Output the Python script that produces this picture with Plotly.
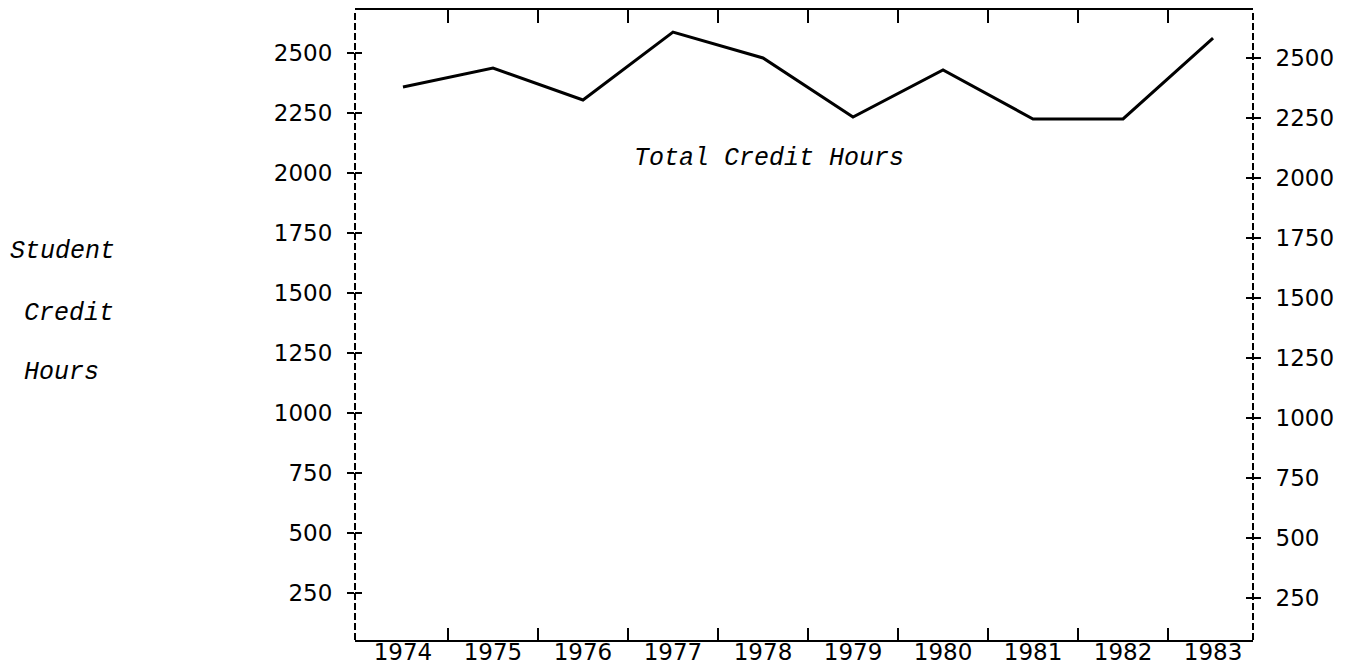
import plotly.graph_objects as go

years = [1974, 1975, 1976, 1977, 1978, 1979, 1980, 1981, 1982, 1983]
credit_hours = [2358, 2437, 2304, 2587, 2479, 2233, 2429, 2225, 2225, 2562]
y_ticks = [250, 500, 750, 1000, 1250, 1500, 1750, 2000, 2250, 2500]
year_labels = [str(y) for y in years]
boundaries = [y + 0.5 for y in years[:-1]]

TICK_FONT = dict(family="DejaVu Sans, Verdana, sans-serif", size=23, color="black")
TYPE_FONT = dict(family="Courier New, Liberation Mono, monospace", size=25,
                 color="black", style="italic")

XR = [1973.467, 1983.444]
YR = [54, 2679]
YR2 = [75, 2700]

L, T, PW, PH = 355, 10, 898, 630
FW, FH = 1355, 670

fig = go.Figure()

fig.add_trace(go.Scatter(x=years, y=credit_hours, mode="lines",
                         line=dict(color="black", width=3),
                         xaxis="x", yaxis="y", hoverinfo="skip", showlegend=False))
for xa, ya in [("x2", "y"), ("x4", "y"), ("x", "y2"), ("x", "y3"), ("x", "y4")]:
    fig.add_trace(go.Scatter(x=years, y=credit_hours, mode="lines",
                             line=dict(width=0, color="rgba(0,0,0,0)"),
                             xaxis=xa, yaxis=ya, hoverinfo="skip", showlegend=False))

common = dict(showgrid=False, zeroline=False, automargin=False)

fig.update_layout(
    width=FW, height=FH,
    margin=dict(l=L, r=FW - L - PW, t=T, b=FH - T - PH, autoexpand=False),
    paper_bgcolor="white", plot_bgcolor="white",
    showlegend=False,
    # bottom frame line with ticks at the year boundaries
    xaxis=dict(range=XR, tickvals=boundaries, ticks="inside", ticklen=12, tickwidth=2,
               tickcolor="black", showticklabels=False,
               showline=True, linecolor="black", linewidth=2, anchor="y", **common),
    # top frame line with ticks at the year boundaries
    xaxis2=dict(range=XR, overlaying="x", side="top", anchor="y",
                tickvals=boundaries, ticks="inside", ticklen=13, tickwidth=2,
                tickcolor="black", showticklabels=False,
                showline=True, linecolor="black", linewidth=2, **common),
    # year labels, centred in each interval
    xaxis4=dict(range=XR, overlaying="x", side="bottom", anchor="free", position=0.006,
                tickvals=years, ticktext=year_labels, ticks="", showline=False,
                tickfont=TICK_FONT, ticklabelstandoff=0, **common),
    yaxis=dict(range=YR, tickvals=y_ticks, ticks="outside", ticklen=7, tickwidth=2,
               tickcolor="black", showline=False,
               tickfont=TICK_FONT, ticklabelstandoff=10, anchor="x", **common),
    yaxis3=dict(range=YR, overlaying="y", side="left", anchor="x",
                tickvals=y_ticks, ticks="inside", ticklen=7, tickwidth=2,
                tickcolor="black", showticklabels=False, showline=False, **common),
    yaxis2=dict(range=YR2, overlaying="y", side="right", anchor="x",
                tickvals=y_ticks, ticks="outside", ticklen=7, tickwidth=2,
                tickcolor="black", showline=False,
                tickfont=TICK_FONT, ticklabelstandoff=10, **common),
    yaxis4=dict(range=YR2, overlaying="y", side="right", anchor="x",
                tickvals=y_ticks, ticks="inside", ticklen=7, tickwidth=2,
                tickcolor="black", showticklabels=False, showline=False, **common),
)

for xp in (0, 1):
    fig.add_shape(type="line", xref="paper", yref="paper", x0=xp, x1=xp, y0=0, y1=1,
                  line=dict(color="black", width=2, dash="7px,3px"))

fig.add_annotation(x=1978.07, y=2062, xref="x", yref="y", text="Total Credit Hours",
                   showarrow=False, font=TYPE_FONT, xanchor="center", yanchor="middle")

for txt, xpx, ypx in [("Student", 8, 252), ("Credit", 22, 313), ("Hours", 22, 372)]:
    fig.add_annotation(x=(xpx - L) / PW, y=(T + PH - ypx) / PH, xref="paper", yref="paper",
                       text=txt, showarrow=False, font=TYPE_FONT,
                       xanchor="left", yanchor="middle")

fig.write_html("out.html",
               config={"displayModeBar": False},
               post_script="document.body.style.margin='0';"
                           "document.body.style.overflow='hidden';")
